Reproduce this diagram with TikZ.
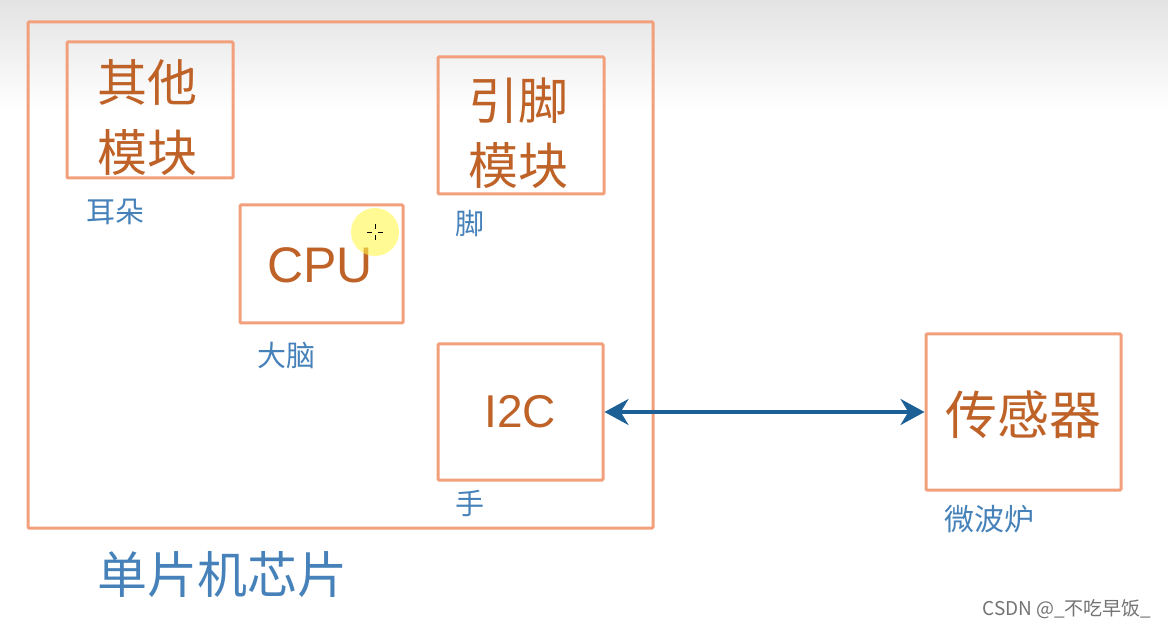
\documentclass[tikz,border=0pt]{standalone}
\usepackage{fontspec}
\setmainfont{Liberation Sans}
\newfontfamily\cjk{Noto Sans CJK SC}
\usetikzlibrary{arrows.meta}
\definecolor{boxline}{RGB}{242,160,124}
\definecolor{boxtext}{RGB}{190,98,40}
\definecolor{labtext}{RGB}{70,130,185}
\definecolor{arrowc}{RGB}{28,96,150}
\tikzset{
  blk/.style={draw=boxline, line width=3pt, rounded corners=1pt, inner sep=0pt},
  cjkbig/.style={text=boxtext, font=\cjk\fontsize{50}{70}\selectfont, align=center, inner sep=0pt},
  latbig/.style={text=boxtext, font=\fontsize{50}{56}\selectfont},
  lab/.style={text=labtext, font=\cjk\fontsize{29}{34}\selectfont, inner sep=0pt},
}
\begin{document}
\begin{tikzpicture}[x=1pt,y=-1pt]
\useasboundingbox (0,0) rectangle (1168,628);
\shade[top color=black!11, bottom color=white] (0,0) rectangle (1168,110);
% outer chip
\node[blk, minimum width=625pt, minimum height=506pt] (chip) at (340.5,275) {};
% other module
\node[blk, minimum width=166pt, minimum height=136pt] (other) at (150,110) {};
\node[cjkbig] (othert) at (147,118) {其他\\模块};
\node[lab] (ear) at (115,212) {耳朵};
% pin module
\node[blk, minimum width=166pt, minimum height=137pt] (pin) at (521,125.5) {};
\node[cjkbig, font=\cjk\fontsize{50}{65}\selectfont] (pint) at (518,133) {引脚\\模块};
\node[lab] (foot) at (470,224) {脚};
% CPU
\node[blk, minimum width=163pt, minimum height=118pt] (cpu) at (321.5,264) {};
\node[latbig] (cput) at (320,265) {CPU};
\node[lab] (brain) at (286,356) {大脑};
% I2C
\node[blk, minimum width=165pt, minimum height=136pt] (i2c) at (520.5,412) {};
\node[latbig, font=\fontsize{46}{52}\selectfont] (i2ct) at (520,412) {I2C};
\node[lab] (hand) at (470,503) {手};
% sensor
\node[blk, minimum width=195pt, minimum height=156pt] (sensor) at (1023.5,412) {};
\node[cjkbig, font=\cjk\fontsize{52}{60}\selectfont] (sensort) at (1023,415) {传感器};
\node[lab, font=\cjk\fontsize{30}{34}\selectfont] (micro) at (989,519) {微波炉};
% chip label
\node[text=labtext, font=\cjk\fontsize{50}{56}\selectfont, inner sep=0pt] (chipl) at (222,575) {单片机芯片};
% arrow
\draw[arrowc, line width=3.5pt, {Stealth[length=24pt,width=26pt]}-{Stealth[length=24pt,width=26pt]}] (i2c.east) -- (sensor.west);
% cursor highlight
\fill[yellow!70!white, opacity=0.6] (375,232) circle (24);
\draw[black, line width=0.7pt] (367,232) -- (372,232) (378,232) -- (383,232) (375,224) -- (375,229) (375,235) -- (375,240);
% watermark
\node[text=black!55, font=\cjk\fontsize{19}{22}\selectfont, inner sep=0pt] (wm) at (1067,609) {CSDN @\_不吃早饭\_};
\end{tikzpicture}
\end{document}
